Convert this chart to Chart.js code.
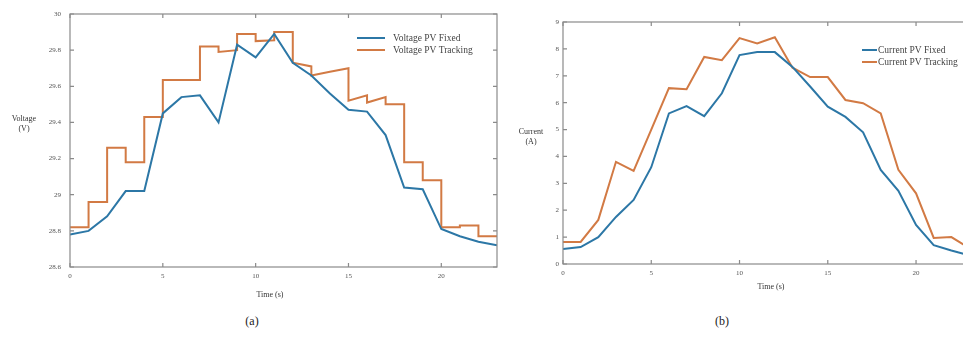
<!DOCTYPE html>
<html>
<head>
<meta charset="utf-8">
<title>PV fixed vs tracking</title>
<script src="https://cdn.jsdelivr.net/npm/chart.js@4.4.1/dist/chart.umd.min.js"></script>
<style>
  html, body { margin: 0; padding: 0; background: #fff; }
  #page { position: relative; width: 963px; height: 349px; overflow: hidden; }
  .box { position: absolute; top: 0; }
  #boxA { left: 0; }
  #boxB { left: 510px; }
  .cap { position: absolute; top: 314px; width: 40px; text-align: center;
         font: 12px "Liberation Serif", serif; color: #222; }
</style>
</head>
<body>
<div id="page">
  <div class="box" id="boxA"><canvas id="voltage" width="510" height="310"></canvas></div>
  <div class="box" id="boxB"><canvas id="current" width="470" height="310"></canvas></div>
  <div class="cap" style="left:232px">(a)</div>
  <div class="cap" style="left:702px">(b)</div>
</div>

<script>
//* Data

// time axis (s), one sample each second
const hours = [0,1,2,3,4,5,6,7,8,9,10,11,12,13,14,15,16,17,18,19,20,21,22,23]

// (a) Voltage
const voltageFixed = [28.78, 28.80, 28.88, 29.02, 29.02, 29.45, 29.54, 29.55, 29.40, 29.83, 29.76, 29.89,
                      29.73, 29.66, 29.56, 29.47, 29.46, 29.33, 29.04, 29.03, 28.81, 28.77, 28.74, 28.72]
// tracking voltage is held over each second: value at start and at end of the interval
const voltageTrackStart = [28.82, 28.96, 29.26, 29.18, 29.43, 29.635, 29.635, 29.82, 29.79, 29.89, 29.85, 29.90,
                           29.73, 29.66, 29.68, 29.52, 29.51, 29.50, 29.18, 29.08, 28.82, 28.83, 28.77]
const voltageTrackEnd   = [28.82, 28.96, 29.26, 29.18, 29.43, 29.635, 29.635, 29.82, 29.80, 29.89, 29.855, 29.90,
                           29.71, 29.68, 29.70, 29.55, 29.54, 29.50, 29.18, 29.08, 28.82, 28.83, 28.77]

// (b) Current
const currentFixed    = [0.56, 0.63, 1.00, 1.75, 2.38, 3.60, 5.60, 5.87, 5.50, 6.35, 7.77, 7.88,
                         7.88, 7.33, 6.60, 5.85, 5.47, 4.90, 3.50, 2.72, 1.45, 0.70, 0.50, 0.32]
const currentTracking = [0.82, 0.82, 1.64, 3.80, 3.46, 5.00, 6.54, 6.50, 7.70, 7.58, 8.40, 8.20,
                         8.43, 7.30, 6.95, 6.95, 6.10, 5.98, 5.60, 3.50, 2.63, 0.97, 1.00, 0.60]

//? Ticks
const timeTicks = [0, 5, 10, 15, 20]
const voltageRange = [28.6, 30, 0.2]
const currentRange = [0, 9, 1]

//? Labels
const labelsA = ['Voltage PV Fixed', 'Voltage PV Tracking']
const labelsB = ['Current PV Fixed', 'Current PV Tracking']

const blue = '#2c77a6'
const orange = '#d27a44'
const axisGrey = '#8a8a8a'
const serif = '"Liberation Serif", "DejaVu Serif", serif'

//* Build points
const toPoints = (xs, ys) => xs.map((x, i) => ({ x: x, y: ys[i] }))

const stepPoints = []
for (let i = 0; i < voltageTrackStart.length; i++) {
  stepPoints.push({ x: hours[i], y: voltageTrackStart[i] })
  stepPoints.push({ x: hours[i + 1], y: voltageTrackEnd[i] })
}

//* Plugins
// box round the plot + inward ticks (matlab style)
const frame = {
  id: 'frame',
  afterDraw(chart) {
    const { ctx, chartArea: a, scales } = chart
    ctx.save()
    ctx.strokeStyle = axisGrey
    ctx.lineWidth = 1.2
    ctx.strokeRect(a.left, a.top, a.right - a.left, a.bottom - a.top)
    ctx.beginPath()
    scales.x.ticks.forEach(t => {
      let px = scales.x.getPixelForValue(t.value)
      ctx.moveTo(px, a.bottom); ctx.lineTo(px, a.bottom - 4)
      ctx.moveTo(px, a.top); ctx.lineTo(px, a.top + 4)
    })
    scales.y.ticks.forEach(t => {
      let py = scales.y.getPixelForValue(t.value)
      ctx.moveTo(a.left, py); ctx.lineTo(a.left + 4, py)
      ctx.moveTo(a.right, py); ctx.lineTo(a.right - 4, py)
    })
    ctx.stroke()
    ctx.restore()
  }
}

// axis titles and the legend drawn inside the plot
const notes = {
  id: 'notes',
  afterDraw(chart, args, o) {
    const { ctx, chartArea: a } = chart
    ctx.save()
    ctx.fillStyle = '#333'
    ctx.textAlign = 'center'
    ctx.textBaseline = 'middle'
    ctx.font = `8px ${serif}`
    o.yTitle.forEach((line, i) => ctx.fillText(line, o.yTitleX, o.yTitleY + i * 10))
    ctx.fillText(o.xTitle, o.xTitleX, o.xTitleY)

    // legend
    ctx.textAlign = 'left'
    ctx.font = `9.5px ${serif}`
    chart.data.datasets.forEach((ds, i) => {
      let y = a.top + o.legendDy + i * 12
      let x = a.left + o.legendDx
      ctx.strokeStyle = ds.borderColor
      ctx.lineWidth = 2
      ctx.beginPath()
      ctx.moveTo(x, y); ctx.lineTo(x + o.legendLine, y)
      ctx.stroke()
      ctx.fillStyle = '#444'
      ctx.fillText(ds.label, x + o.legendLine + o.legendGap, y)
    })
    ctx.restore()
  }
}

const tickFont = { family: serif, size: 7 }

function makeScales(yRange, yPad, xPad, yWidth, xHeight) {
  return {
    x: {
      type: 'linear', min: hours[0], max: hours[hours.length - 1],
      afterBuildTicks: s => { s.ticks = timeTicks.map(v => ({ value: v })) },
      afterFit: s => { s.height = xHeight },
      grid: { display: false, drawTicks: false },
      border: { display: false },
      ticks: { padding: xPad, color: '#555', font: tickFont, maxRotation: 0 }
    },
    y: {
      min: yRange[0], max: yRange[1],
      afterBuildTicks: s => {
        let t = []
        for (let v = yRange[0]; v <= yRange[1] + 1e-9; v += yRange[2]) t.push({ value: Number(v.toFixed(1)) })
        s.ticks = t
      },
      afterFit: s => { s.width = yWidth },
      grid: { display: false, drawTicks: false },
      border: { display: false },
      ticks: { padding: yPad, color: '#555', font: tickFont,
               callback: v => String(Number(v.toFixed(1))) }
    }
  }
}

const lineStyle = { pointRadius: 0, borderWidth: 2, tension: 0, fill: false }

//* Chart (a)
new Chart(document.getElementById('voltage'), {
  type: 'line',
  data: {
    datasets: [
      { label: labelsA[0], data: toPoints(hours, voltageFixed), borderColor: blue, ...lineStyle },
      { label: labelsA[1], data: stepPoints, borderColor: orange, ...lineStyle }
    ]
  },
  options: {
    responsive: false,
    animation: false,
    layout: { padding: { top: 14, right: 13, left: 0, bottom: 0 } },
    scales: makeScales(voltageRange, 9, 5, 70, 43),
    plugins: {
      legend: { display: false },
      tooltip: { enabled: false },
      notes: { yTitle: ['Voltage', '(V)'], yTitleX: 24, yTitleY: 119,
               xTitle: 'Time (s)', xTitleX: 270, xTitleY: 295,
               legendDx: 287, legendDy: 24, legendLine: 28, legendGap: 8 }
    }
  },
  plugins: [frame, notes]
})

//* Chart (b)
new Chart(document.getElementById('current'), {
  type: 'line',
  data: {
    datasets: [
      { label: labelsB[0], data: toPoints(hours, currentFixed), borderColor: blue, ...lineStyle },
      { label: labelsB[1], data: toPoints(hours, currentTracking), borderColor: orange, ...lineStyle }
    ]
  },
  options: {
    responsive: false,
    animation: false,
    layout: { padding: { top: 22, right: 11, left: 0, bottom: 0 } },
    scales: makeScales(currentRange, 4, 5, 53, 46),
    plugins: {
      legend: { display: false },
      tooltip: { enabled: false },
      notes: { yTitle: ['Current', '(A)'], yTitleX: 21, yTitleY: 132,
               xTitle: 'Time (s)', xTitleX: 261, xTitleY: 287,
               legendDx: 299, legendDy: 28, legendLine: 15, legendGap: 1 }
    }
  },
  plugins: [frame, notes]
})
</script>
</body>
</html>
